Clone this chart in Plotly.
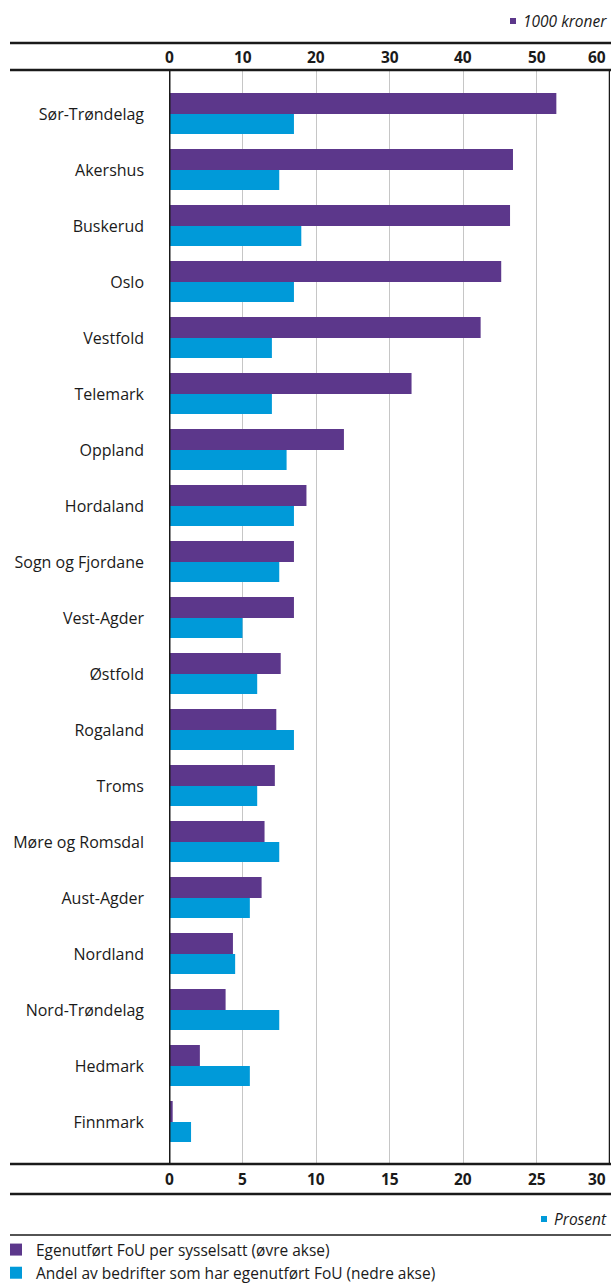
import plotly.graph_objects as go

# Counties, top to bottom
fylker = [
    "Sør-Trøndelag", "Akershus", "Buskerud", "Oslo", "Vestfold", "Telemark",
    "Oppland", "Hordaland", "Sogn og Fjordane", "Vest-Agder", "Østfold",
    "Rogaland", "Troms", "Møre og Romsdal", "Aust-Agder", "Nordland",
    "Nord-Trøndelag", "Hedmark", "Finnmark",
]
# Own R&D per employee, 1000 NOK (upper axis)
fou_per_sysselsatt = [52.7, 46.8, 46.4, 45.2, 42.4, 33.0, 23.8, 18.7, 17.0, 17.0,
                      15.2, 14.6, 14.4, 13.0, 12.6, 8.7, 7.7, 4.2, 0.5]
# Share of firms with own R&D, percent (lower axis)
andel_bedrifter = [8.5, 7.5, 9.0, 8.5, 7.0, 7.0, 8.0, 8.5, 7.5, 5.0,
                   6.0, 8.5, 6.0, 7.5, 5.5, 4.5, 7.5, 5.5, 1.5]
ticks_kroner = [0, 10, 20, 30, 40, 50, 60]
ticks_prosent = [0, 5, 10, 15, 20, 25, 30]

navn_kroner = "Egenutført FoU per sysselsatt (øvre akse)"
navn_prosent = "Andel av bedrifter som har egenutført FoU (nedre akse)"
enhet_kroner = "1000 kroner"
enhet_prosent = "Prosent"

LILLA = "#5c378b"
BLAA = "#009ad9"
SORT = "#1a1a1a"
GRID = "#c6c6c6"
FONT = "Open Sans"

# Page geometry (pixels)
W, H = 611, 1283
L, R, T, B = 169, 1, 70, 119
PW = W - L - R
PH = H - T - B


def px(xpix):
    return (xpix - L) / PW


def py(ypix):
    return (H - B - ypix) / PH


fig = go.Figure()
fig.add_trace(go.Bar(
    y=fylker, x=fou_per_sysselsatt, orientation="h",
    xaxis="x2", yaxis="y", name=navn_kroner,
    marker=dict(color=LILLA, line=dict(width=0)),
    width=0.375, offset=-0.375, hoverinfo="x+y",
))
fig.add_trace(go.Bar(
    y=fylker, x=andel_bedrifter, orientation="h",
    xaxis="x", yaxis="y", name=navn_prosent,
    marker=dict(color=BLAA, line=dict(width=0)),
    width=0.357, offset=0.0, hoverinfo="x+y",
))

shapes = []
# Vertical axis line at zero and right border
shapes.append(dict(type="line", xref="x", yref="paper", x0=0, x1=0, y0=0, y1=1,
                   line=dict(color=SORT, width=3)))
shapes.append(dict(type="line", xref="x", yref="paper", x0=30, x1=30, y0=0, y1=1,
                   line=dict(color=SORT, width=2.5)))
# Horizontal rules framing the axis label bands
for ypix, w in [(43, 2.5), (T, 2.5), (H - B, 2.5), (1194, 2.5), (1235, 1.5)]:
    shapes.append(dict(type="line", xref="paper", yref="paper",
                       x0=px(10), x1=px(W + 2), y0=py(ypix), y1=py(ypix),
                       line=dict(color=SORT, width=w)))
# Unit markers
shapes.append(dict(type="rect", xref="paper", yref="paper",
                   x0=px(510), x1=px(516), y0=py(18), y1=py(24),
                   fillcolor=LILLA, line=dict(width=0)))
shapes.append(dict(type="rect", xref="paper", yref="paper",
                   x0=px(541), x1=px(547), y0=py(1216), y1=py(1222),
                   fillcolor=BLAA, line=dict(width=0)))

annotations = []
for i, v in enumerate(ticks_kroner):
    last = i == len(ticks_kroner) - 1
    annotations.append(dict(
        xref="x2", yref="paper", x=v, y=1, yshift=13.5,
        text=f"<b>{v}</b>", showarrow=False,
        xanchor="right" if last else "center", xshift=-2 if last else 0,
        yanchor="middle", font=dict(family=FONT, size=15.5, color=SORT)))
for i, v in enumerate(ticks_prosent):
    last = i == len(ticks_prosent) - 1
    annotations.append(dict(
        xref="x", yref="paper", x=v, y=0, yshift=-14.5,
        text=f"<b>{v}</b>", showarrow=False,
        xanchor="right" if last else "center", xshift=-2 if last else 0,
        yanchor="middle", font=dict(family=FONT, size=15.5, color=SORT)))
annotations.append(dict(
    xref="paper", yref="paper", x=px(609), y=py(21), text=f"<i>{enhet_kroner}</i>",
    showarrow=False, xanchor="right", yanchor="middle",
    font=dict(family=FONT, size=15.5, color=SORT)))
annotations.append(dict(
    xref="paper", yref="paper", x=px(609), y=py(1219), text=f"<i>{enhet_prosent}</i>",
    showarrow=False, xanchor="right", yanchor="middle",
    font=dict(family=FONT, size=15.5, color=SORT)))

fig.update_layout(
    width=W, height=H, autosize=False,
    margin=dict(l=L, r=R, t=T, b=B, pad=0, autoexpand=False),
    paper_bgcolor="white", plot_bgcolor="white",
    font=dict(family=FONT, color=SORT),
    barmode="overlay",
    showlegend=True,
    legend=dict(
        x=px(-4), y=py(1233), xanchor="left", yanchor="top",
        orientation="v", traceorder="normal",
        font=dict(family=FONT, size=15.5, color=SORT),
        bgcolor="rgba(0,0,0,0)", borderwidth=0,
        itemsizing="constant", tracegroupgap=0,
    ),
    xaxis=dict(
        range=[0, 30], tickvals=ticks_prosent, showticklabels=False,
        showgrid=True, gridcolor=GRID, gridwidth=1.2,
        zeroline=False, showline=False, ticks="", fixedrange=True,
    ),
    xaxis2=dict(
        range=[0, 60], tickvals=ticks_kroner, overlaying="x", side="top",
        showticklabels=False, showgrid=False, zeroline=False,
        showline=False, ticks="", fixedrange=True,
    ),
    yaxis=dict(
        type="category", categoryorder="array", categoryarray=fylker,
        range=[18.75, -0.784], showgrid=False, zeroline=False,
        showline=False, ticks="", ticklabelstandoff=24,
        tickfont=dict(family=FONT, size=16, color=SORT), fixedrange=True,
    ),
    shapes=shapes,
    annotations=annotations,
)

fig.write_html("out.html", config={"displayModeBar": False, "responsive": False})
